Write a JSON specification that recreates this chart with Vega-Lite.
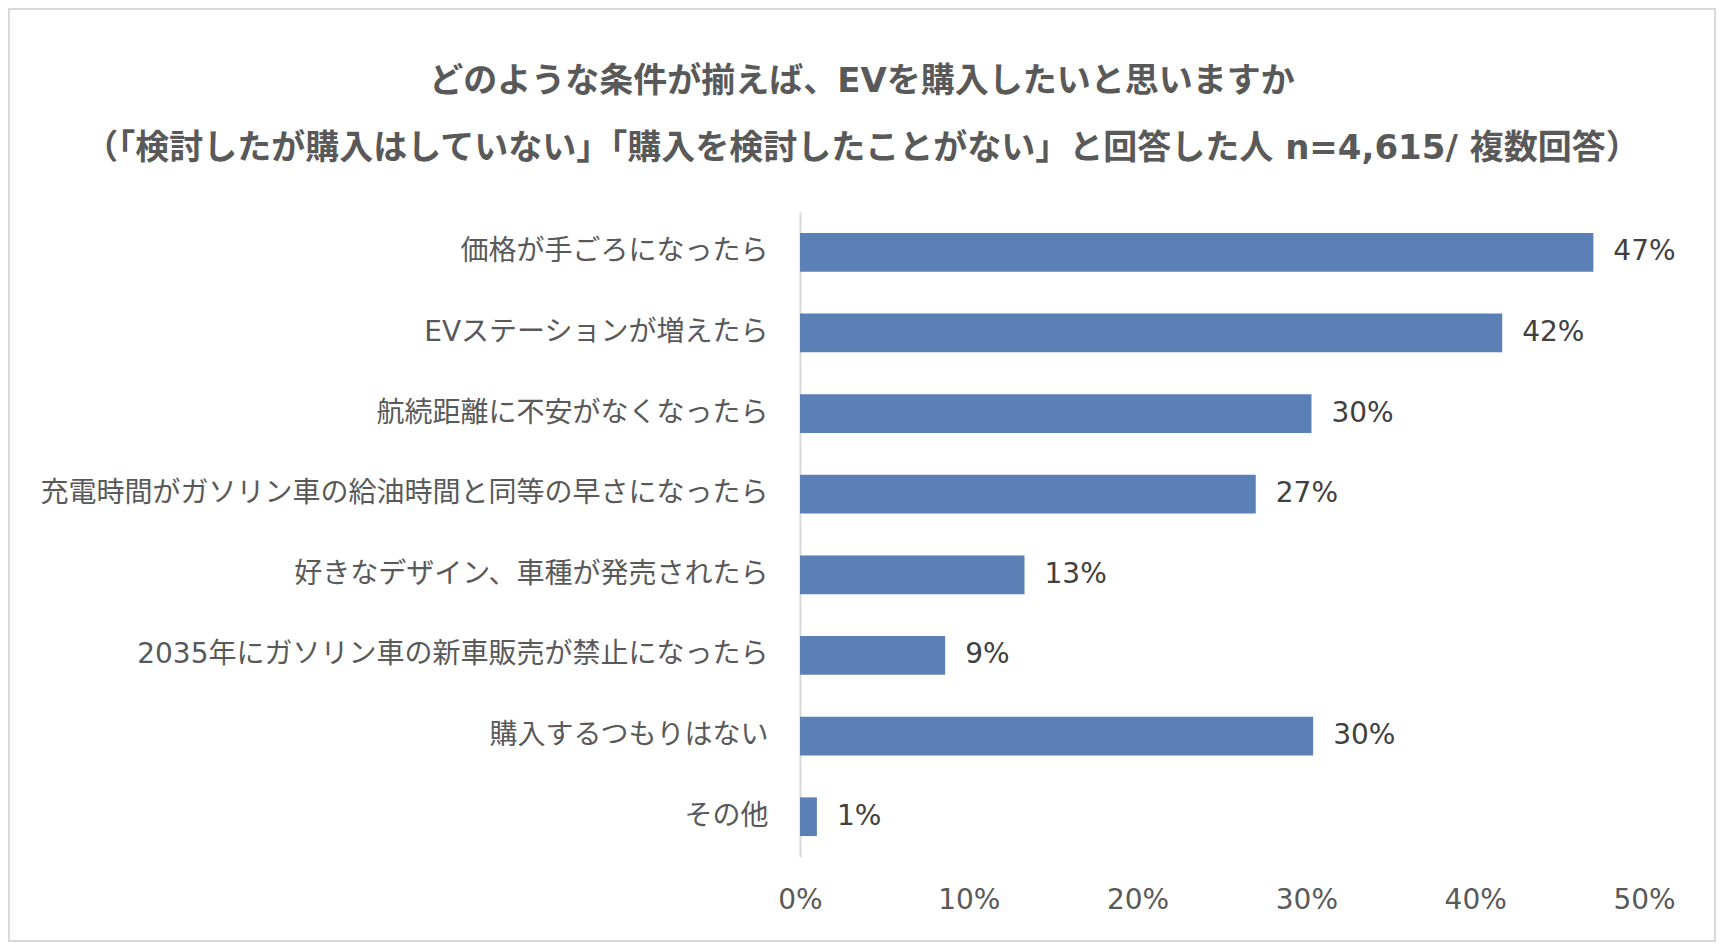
{
  "$schema": "https://vega.github.io/schema/vega-lite/v6.json",
  "autosize": {"type": "none"},
  "padding": 9,
  "width": 1706,
  "height": 932,
  "background": "white",
  "title": {
    "text": [
      "どのような条件が揃えば、EVを購入したいと思いますか",
      "（「検討したが購入はしていない」「購入を検討したことがない」と回答した人 n=4,615/ 複数回答）"
    ],
    "font": "DejaVu Sans, Noto Sans CJK JP",
    "fontSize": 34,
    "fontWeight": "bold",
    "color": "#595959",
    "lineHeight": 67,
    "anchor": "middle",
    "offset": -157
  },
  "data": {
    "values": [
      {"item": "価格が手ごろになったら", "share": 0.47},
      {"item": "EVステーションが増えたら", "share": 0.416},
      {"item": "航続距離に不安がなくなったら", "share": 0.303},
      {"item": "充電時間がガソリン車の給油時間と同等の早さになったら", "share": 0.27},
      {"item": "好きなデザイン、車種が発売されたら", "share": 0.133},
      {"item": "2035年にガソリン車の新車販売が禁止になったら", "share": 0.086},
      {"item": "購入するつもりはない", "share": 0.304},
      {"item": "その他", "share": 0.01}
    ]
  },
  "encoding": {
    "y": {
      "field": "item",
      "type": "nominal",
      "sort": null,
      "title": null,
      "scale": {"range": [203, 848], "paddingInner": 0.52, "paddingOuter": 0.26},
      "axis": {
        "offset": -791,
        "ticks": false,
        "domainColor": "#d9d9d9",
        "domainWidth": 2,
        "labelFont": "DejaVu Sans, Noto Sans CJK JP",
        "labelFontSize": 28,
        "labelColor": "#595959",
        "labelPadding": 32,
        "labelLimit": 900
      }
    },
    "x": {
      "field": "share",
      "type": "quantitative",
      "title": null,
      "scale": {"domain": [0, 0.5], "nice": false, "range": [791, 1635]},
      "axis": {
        "offset": -84,
        "values": [0, 0.1, 0.2, 0.3, 0.4, 0.5],
        "format": ".0%",
        "grid": false,
        "domain": false,
        "ticks": false,
        "labelFlush": false,
        "labelFont": "DejaVu Sans",
        "labelFontSize": 28,
        "labelColor": "#595959",
        "labelPadding": 29
      }
    }
  },
  "layer": [
    {"mark": {"type": "bar", "color": "#5b80b6"}},
    {
      "mark": {
        "type": "text",
        "align": "left",
        "baseline": "middle",
        "dx": 20,
        "font": "DejaVu Sans",
        "fontSize": 28,
        "color": "#404040"
      },
      "encoding": {"text": {"field": "share", "type": "quantitative", "format": ".0%"}}
    }
  ],
  "config": {"view": {"stroke": "#d9d9d9", "strokeWidth": 2}}
}
